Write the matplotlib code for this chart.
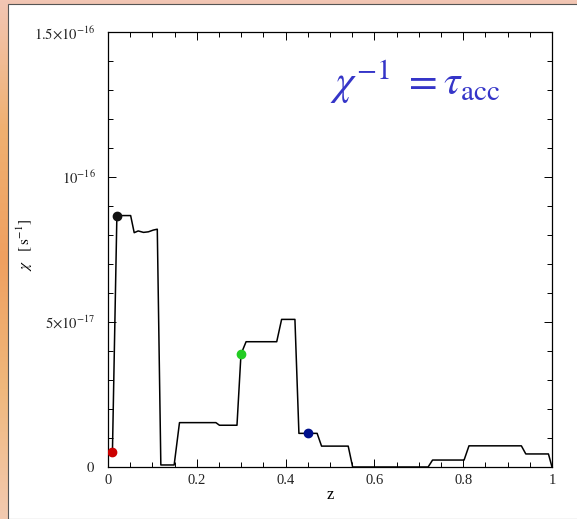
import numpy as np
import matplotlib.pyplot as plt
from matplotlib.patches import Rectangle
from matplotlib.ticker import MultipleLocator, FixedLocator

plt.rcParams['mathtext.fontset'] = 'stix'
plt.rcParams['font.family'] = ['Liberation Serif', 'DejaVu Serif']

# chi(z) track, in units of 1e-18 s^-1
z = [0.010, 0.020, 0.051, 0.059, 0.068, 0.080, 0.091, 0.102, 0.111, 0.119,
     0.149, 0.161, 0.243, 0.251, 0.2905, 0.2995, 0.311, 0.380, 0.391, 0.421,
     0.430, 0.451, 0.471, 0.481, 0.541, 0.551, 0.721, 0.731, 0.802, 0.813,
     0.931, 0.941, 0.992, 1.000]
chi = [5.3, 86.7, 86.7, 80.8, 81.4, 80.9, 81.1, 81.7, 82.0, 0.7,
       0.7, 15.3, 15.3, 14.4, 14.4, 38.9, 43.2, 43.2, 50.9, 50.9,
       11.6, 11.6, 11.6, 7.2, 7.2, 0.0, 0.0, 2.4, 2.4, 7.3,
       7.3, 4.5, 4.5, 0.0]

# highlighted points
dot_z = [0.010, 0.020, 0.2995, 0.451]
dot_chi = [5.3, 86.7, 38.9, 11.6]
dot_colors = ['#cc0000', '#111111', '#22cc22', '#00108c']

yticks = [0, 5e-17, 1e-16, 1.5e-16]
ytick_labels = ['$0$', r'$5{\times}10^{-17}$', r'$10^{-16}$', r'$1.5{\times}10^{-16}$']
xticks = [0, 0.2, 0.4, 0.6, 0.8, 1.0]
xtick_labels = ['0', '0.2', '0.4', '0.6', '0.8', '1']

fig = plt.figure(figsize=(5.77, 5.19), dpi=100)

# orange slide-style frame behind the plot
bg = fig.add_axes([0, 0, 1, 1], zorder=-10)
grad = np.linspace(0, 1, 256).reshape(-1, 1)
cmap = plt.matplotlib.colors.LinearSegmentedColormap.from_list(
    'frame', ['#f2c6b4', '#f0b070', '#efa060', '#f0b87c', '#f3cab0'])
bg.imshow(grad, aspect='auto', cmap=cmap, extent=[0, 1, 0, 1])
bg.add_patch(Rectangle((8 / 577, 0), 1, 1 - 4 / 519, facecolor='white',
                       edgecolor='#555555', linewidth=0.8))
bg.set_xlim(0, 1)
bg.set_ylim(0, 1)
bg.axis('off')

ax = fig.add_axes([108 / 577, 1 - 467 / 519, 444 / 577, 435 / 519])
ax.set_facecolor('none')

ax.plot(z, np.array(chi) * 1e-18, color='black', linewidth=1.1, zorder=2)
for zz, cc, col in zip(dot_z, dot_chi, dot_colors):
    ax.plot(zz, cc * 1e-18, 'o', color=col, markersize=6, zorder=3)

ax.set_xlim(0, 1)
ax.set_ylim(0, 1.5e-16)
ax.xaxis.set_major_locator(FixedLocator(xticks))
ax.set_xticklabels(xtick_labels)
ax.xaxis.set_minor_locator(MultipleLocator(0.05))
ax.yaxis.set_major_locator(FixedLocator(yticks))
ax.set_yticklabels(ytick_labels)
ax.yaxis.set_minor_locator(MultipleLocator(1e-17))
ax.tick_params(which='both', direction='in', top=True, right=True,
               labelsize=10.5, width=0.7, colors='black', labelcolor='#222222')
ax.tick_params(which='major', length=6)
ax.tick_params(axis='y', which='major', pad=9)
ax.tick_params(axis='x', which='major', pad=5)
ax.tick_params(which='minor', length=3.5)
for s in ax.spines.values():
    s.set_linewidth(0.9)

ax.set_xlabel('z', fontsize=12)
ax.xaxis.set_label_coords(0.5, -0.047)
ax.set_ylabel(r'$\chi\ \ \ [\,\mathrm{s}^{-1}]$', fontsize=11)
ax.yaxis.set_label_coords(-0.165, 0.51)

ax.text(0.50, 0.855, r'$\chi^{\mathrm{-1}}\ {=}\tau_{\mathrm{acc}}$',
        transform=ax.transAxes, fontsize=30, color='#3535c8')

fig.savefig('out.png', dpi=100)
